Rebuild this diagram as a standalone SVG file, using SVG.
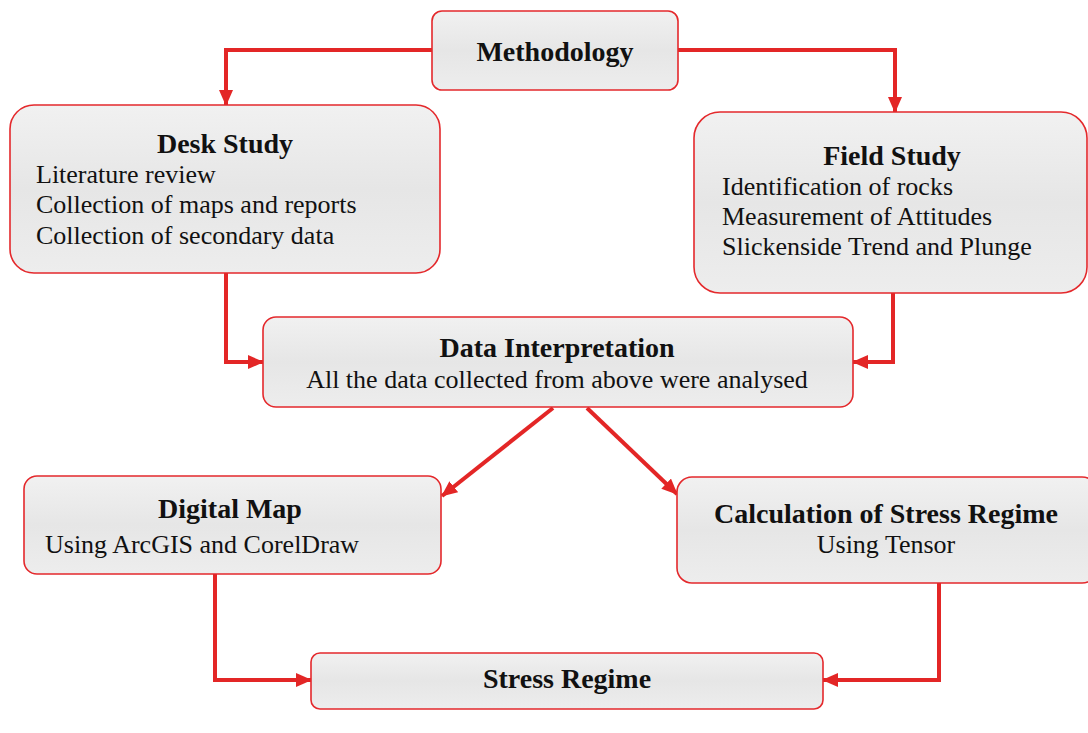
<svg xmlns="http://www.w3.org/2000/svg" width="1088" height="733" viewBox="0 0 1088 733">
<defs>
<linearGradient id="boxfill" x1="0" y1="0" x2="0" y2="1">
<stop offset="0" stop-color="#f1f1f1"/>
<stop offset="0.5" stop-color="#e6e6e6"/>
<stop offset="1" stop-color="#ededed"/>
</linearGradient>
<marker id="arrow" viewBox="0 0 16 14" refX="15" refY="7" markerWidth="16" markerHeight="14" markerUnits="userSpaceOnUse" orient="auto">
<path d="M0,0 L16,7 L0,14 Z" fill="#e32626"/>
</marker>
<style>
.box{fill:url(#boxfill);stroke:#e4292c;stroke-width:1.6}
.t{font-family:"Liberation Serif","Times New Roman",serif;font-weight:bold;font-size:28px;fill:#111;text-anchor:middle}
.b{font-family:"Liberation Serif","Times New Roman",serif;font-size:26px;fill:#111}
.c{text-anchor:middle}
.con{fill:none;stroke:#e32626;stroke-width:4;marker-end:url(#arrow)}
</style>
</defs>
<rect width="1088" height="733" fill="#ffffff"/>
<g id="connectors">
<path class="con" d="M432,50 H226 V105"/>
<path class="con" d="M677,50 H895 V112"/>
<path class="con" d="M226,273 V362 H263"/>
<path class="con" d="M893,293 V362 H853"/>
<path class="con" d="M553,408 L442,496"/>
<path class="con" d="M587,408 L677,494"/>
<path class="con" d="M215,574 V680 H311"/>
<path class="con" d="M939,583 V680 H823"/>
</g>
<g id="methodology">
<rect class="box" x="432" y="11" width="246" height="79" rx="10"/>
<text class="t" x="555" y="61">Methodology</text>
</g>
<g id="desk-study">
<rect class="box" x="10" y="105" width="430" height="168" rx="24"/>
<text class="t" x="225" y="153">Desk Study</text>
<text class="b" x="36" y="183">Literature review</text>
<text class="b" x="36" y="213">Collection of maps and reports</text>
<text class="b" x="36" y="244">Collection of secondary data</text>
</g>
<g id="field-study">
<rect class="box" x="694" y="112" width="393" height="181" rx="26"/>
<text class="t" x="892" y="165">Field Study</text>
<text class="b" x="722" y="195">Identification of rocks</text>
<text class="b" x="722" y="225">Measurement of Attitudes</text>
<text class="b" x="722" y="255">Slickenside Trend and Plunge</text>
</g>
<g id="data-interpretation">
<rect class="box" x="263" y="317" width="590" height="90" rx="13"/>
<text class="t" x="557" y="357">Data Interpretation</text>
<text class="b c" x="557" y="388">All the data collected from above were analysed</text>
</g>
<g id="digital-map">
<rect class="box" x="24" y="476" width="417" height="98" rx="13"/>
<text class="t" x="230" y="518">Digital Map</text>
<text class="b" x="45" y="553">Using ArcGIS and CorelDraw</text>
</g>
<g id="calculation">
<rect class="box" x="677" y="477" width="420" height="106" rx="15"/>
<text class="t" x="886" y="523">Calculation of Stress Regime</text>
<text class="b c" x="886" y="553">Using Tensor</text>
</g>
<g id="stress-regime">
<rect class="box" x="311" y="653" width="512" height="56" rx="9"/>
<text class="t" x="567" y="688">Stress Regime</text>
</g>
</svg>
